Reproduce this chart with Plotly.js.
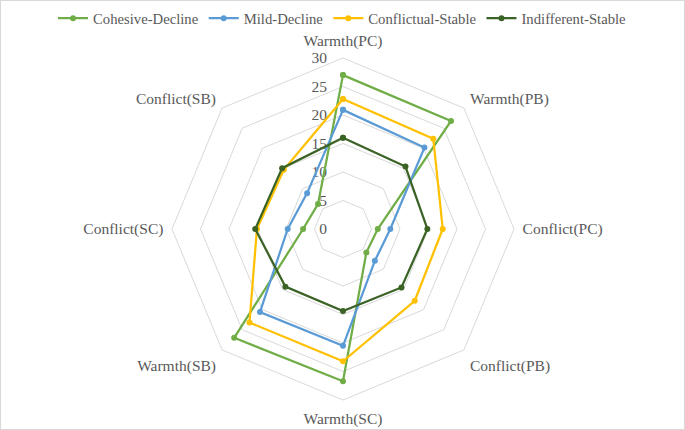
<!DOCTYPE html>
<html><head><meta charset="utf-8">
<script src="https://cdn.plot.ly/plotly-3.0.1.min.js"></script>
<style>body{margin:0;padding:0;background:#fff}#wrap{position:relative;width:685px;height:430px}
#frame{position:absolute;left:0;top:0;width:685px;height:430px;box-sizing:border-box;border:1px solid #d9d9d9;pointer-events:none}</style>
</head><body><div id="wrap"><div id="chart" style="width:685px;height:430px"></div><div id="frame"></div></div>
<script>
const categories = ["Warmth(PC)","Warmth(PB)","Conflict(PC)","Conflict(PB)","Warmth(SC)","Warmth(SB)","Conflict(SC)","Conflict(SB)"];
const cohesiveDecline = [27, 26.8, 6.1, 5.8, 26.7, 27, 7, 6.2];
const mildDecline = [20.9, 20.2, 8.3, 7.9, 20.5, 20.6, 9.7, 8.9];
const conflictualStable = [22.8, 22.4, 17.5, 17.8, 23.2, 23.2, 15.1, 14.7];
const indifferentStable = [16, 15.5, 14.8, 14.5, 14.4, 14.3, 15.4, 15.1];
const radialTicks = [0,5,10,15,20,25,30];

const seriesDefs = [
  {name:"Cohesive-Decline", vals:cohesiveDecline, color:"#70AD47"},
  {name:"Mild-Decline", vals:mildDecline, color:"#5B9BD5"},
  {name:"Conflictual-Stable", vals:conflictualStable, color:"#FFC000"},
  {name:"Indifferent-Stable", vals:indifferentStable, color:"#3B6326"}
];
const traces = seriesDefs.map(s => ({
  type:"scatterpolar", mode:"lines+markers", name:s.name,
  r: s.vals.concat([s.vals[0]]), theta: categories.concat([categories[0]]),
  line:{color:s.color, width:2.25}, marker:{color:s.color, size:6}
}));
const layout = {
  width:685, height:430,
  margin:{l:0, r:0, t:58, b:30},
  paper_bgcolor:"#fff",
  font:{family:"Liberation Serif, Times New Roman, serif", color:"#595959", size:15},
  showlegend:true,
  legend:{orientation:"h", x:0.5, xanchor:"center", y:1.115, yanchor:"middle", font:{size:14.7, color:"#595959"}, itemwidth:30, tracegroupgap:0},
  polar:{
    domain:{x:[172/685, 514/685], y:[0,1]},
    gridshape:"linear",
    bgcolor:"rgba(0,0,0,0)",
    angularaxis:{direction:"clockwise", rotation:90, showgrid:false, showline:true, linecolor:"#d9d9d9", linewidth:1, ticks:"outside", ticklen:5, tickcolor:"rgba(0,0,0,0)", tickfont:{size:15.5, color:"#595959"}},
    radialaxis:{range:[0,30], tickvals:radialTicks, ticktext:radialTicks.map(String), angle:90, side:"counterclockwise", tickangle:90, showline:false, ticks:"outside", ticklen:10, tickcolor:"rgba(0,0,0,0)", layer:"below traces", gridcolor:"#d9d9d9", gridwidth:1, tickfont:{size:15.5, color:"#595959"}}
  }
};
Plotly.newPlot("chart", traces, layout, {displayModeBar:false, staticPlot:true});
</script></body></html>
